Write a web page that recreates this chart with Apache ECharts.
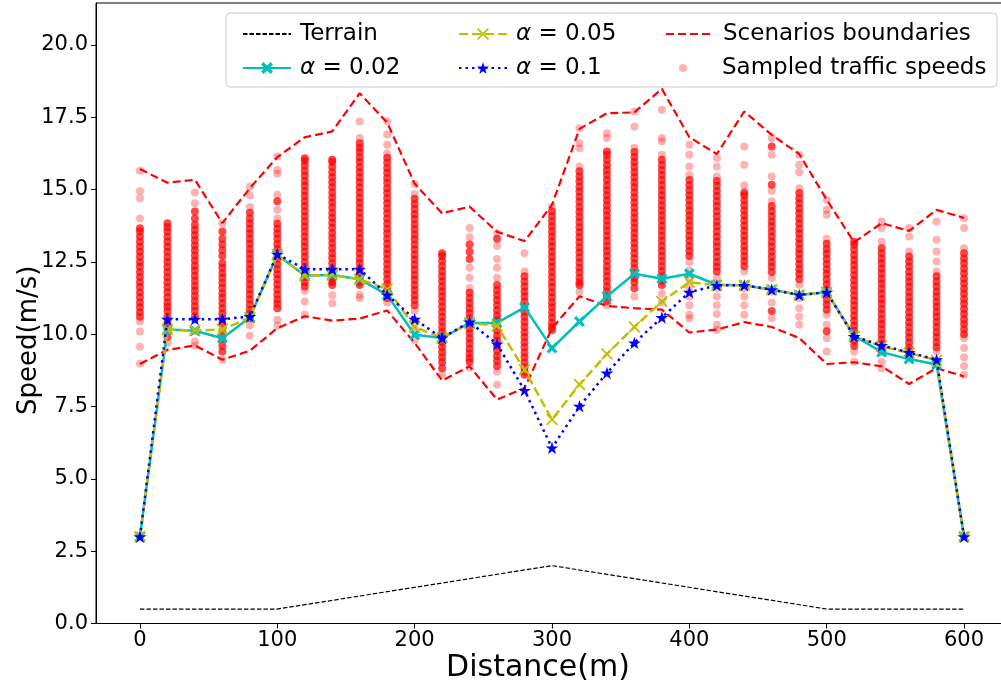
<!DOCTYPE html>
<html>
<head>
<meta charset="utf-8">
<script src="https://cdn.jsdelivr.net/npm/echarts@6/dist/echarts.min.js"></script>
<style>html,body{margin:0;padding:0;background:#fff;}#c{width:1001px;height:689px;}</style>
</head>
<body>
<div id="c"></div>
<script>
// ---- data ----
const distances = [0,20,40,60,80,100,120,140,160,180,200,220,240,260,280,300,320,340,360,380,400,420,440,460,480,500,520,540,560,580,600];
const terrainX = [0,100,300,500,600];
const terrainY = [0.5,0.5,2.0,0.5,0.5];
const alpha002 = [3.0,10.16,10.12,9.86,10.58,12.75,12.03,12.05,11.9,11.36,9.98,9.87,10.39,10.39,10.93,9.52,10.44,11.31,12.09,11.92,12.09,11.71,11.69,11.54,11.36,11.45,9.95,9.38,9.14,8.95,3.0];
const alpha005 = [3.0,10.16,10.13,10.16,10.58,12.75,12.03,12.05,11.9,11.56,10.25,9.87,10.39,10.29,8.77,7.05,8.26,9.32,10.25,11.13,11.8,11.69,11.69,11.54,11.36,11.45,9.93,9.58,9.35,9.1,3.0];
const alpha01 = [3.0,10.52,10.52,10.52,10.61,12.77,12.25,12.25,12.25,11.36,10.52,9.87,10.42,9.66,8.06,6.07,7.51,8.66,9.70,10.58,11.45,11.69,11.69,11.54,11.36,11.45,9.92,9.61,9.37,9.12,3.0];
const upperBound = [15.71,15.24,15.34,13.84,15.05,16.12,16.81,17.01,18.33,17.32,15.2,14.18,14.41,13.54,13.22,14.47,17.1,17.64,17.67,18.48,16.81,16.23,17.70,16.89,16.23,14.65,13.18,13.84,13.57,14.3,14.02];
const lowerBound = [8.97,9.46,9.61,9.12,9.43,10.21,10.62,10.47,10.54,10.82,9.7,8.4,8.89,7.74,8.14,10.21,11.31,10.98,10.9,10.85,10.06,10.16,10.42,10.25,9.87,8.97,9.03,8.89,8.28,8.83,8.54];
const xTicks = [0,100,200,300,400,500,600];
const yTicks = [0,2.5,5,7.5,10,12.5,15,17.5,20];

// sampled traffic speeds, one list per distance
const s0 = [15.65,14.95,14.7,14.0,13.66,13.55,13.38,13.2,13.02,12.85,12.68,12.5,12.33,12.15,11.98,11.8,11.63,11.45,11.28,11.1,10.93,10.76,10.6,10.44,10.09,9.57,8.99];
const s20 = [13.84,13.7,13.55,13.37,13.2,13.02,12.85,12.67,12.5,12.32,12.15,11.97,11.8,11.62,11.45,11.27,11.1,10.95,10.8,10.6,10.4,10.2,9.9,9.7];
const s40 = [14.9,14.53,14.24,14.0,13.78,13.6,13.42,13.25,13.07,12.9,12.72,12.55,12.37,12.2,12.02,11.85,11.67,11.5,11.32,11.15,10.97,10.8,10.62,10.5,10.1,9.75,9.6];
const s60 = [13.84,13.55,13.3,13.1,12.9,12.7,12.45,12.3,12.12,11.95,11.77,11.6,11.42,11.25,11.07,10.9,10.72,10.55,10.38,10.1,9.85,9.6,9.4,9.12];
const s80 = [15.1,14.8,14.4,14.2,14.0,13.83,13.65,13.48,13.3,13.13,12.95,12.78,12.6,12.43,12.25,12.08,11.9,11.73,11.55,11.38,11.2,11.03,10.85,10.7,10.55,10.3,9.95];
const s100 = [16.14,15.68,15.55,14.82,14.6,14.3,14.0,13.82,13.65,13.47,13.3,13.12,12.95,12.77,12.6,12.42,12.25,12.07,11.9,11.72,11.55,11.37,11.2,11.05,10.9,10.5,10.3];
const s120 = [16.08,16.0,15.83,15.65,15.48,15.3,15.13,14.95,14.78,14.6,14.43,14.25,14.08,13.9,13.73,13.55,13.38,13.2,13.03,12.85,12.68,12.5,12.33,12.15,11.98,11.8,11.65,11.5,11.13,10.67];
const s140 = [16.03,15.95,15.78,15.6,15.43,15.25,15.08,14.9,14.73,14.55,14.38,14.2,14.03,13.85,13.68,13.5,13.33,13.15,12.98,12.8,12.63,12.45,12.28,12.1,11.93,11.8,11.7,11.35,11.07];
const s160 = [17.35,16.78,16.6,16.45,16.3,16.12,15.95,15.77,15.6,15.42,15.25,15.07,14.9,14.72,14.55,14.37,14.2,14.02,13.85,13.67,13.5,13.32,13.15,12.97,12.8,12.62,12.45,12.27,12.1,11.92,11.8,11.7,11.36,11.25];
const s180 = [17.35,16.9,16.55,16.25,16.1,15.93,15.75,15.58,15.4,15.23,15.05,14.88,14.7,14.53,14.35,14.18,14.0,13.83,13.65,13.48,13.3,13.13,12.95,12.78,12.6,12.43,12.25,12.08,11.9,11.73,11.55,11.4,11.25,11.1];
const s200 = [15.2,14.85,14.68,14.5,14.33,14.15,13.98,13.8,13.63,13.45,13.28,13.1,12.93,12.75,12.58,12.4,12.23,12.05,11.88,11.7,11.53,11.35,11.18,11.0,10.8,10.5,10.2,9.8];
const s220 = [12.8,12.7,12.53,12.35,12.18,12.0,11.83,11.65,11.48,11.3,11.13,10.95,10.78,10.6,10.43,10.25,10.08,9.9,9.73,9.55,9.38,9.2,9.03,8.82,8.6];
const s240 = [13.67,13.35,13.1,12.85,12.6,12.3,11.95,11.6,11.43,11.25,11.08,10.9,10.73,10.55,10.38,10.2,10.03,9.85,9.68,9.5,9.33,9.18,9.05,8.85];
const s260 = [13.5,13.3,13.05,12.6,12.3,11.95,11.7,11.53,11.35,11.18,11.0,10.83,10.65,10.48,10.3,10.13,9.95,9.78,9.6,9.43,9.25,9.08,8.9,8.7,8.25];
const s280 = [12.8,12.17,12.0,11.82,11.65,11.47,11.3,11.12,10.95,10.77,10.6,10.42,10.25,10.07,9.9,9.72,9.55,9.37,9.2,9.02,8.85,8.7,8.6];
const s300 = [14.41,14.25,14.08,13.9,13.73,13.55,13.38,13.2,13.03,12.85,12.68,12.5,12.33,12.15,11.98,11.8,11.63,11.45,11.28,11.1,10.93,10.75,10.58,10.4,10.25,10.15];
const s320 = [17.12,16.6,16.43,15.8,15.63,15.45,15.28,15.1,14.93,14.75,14.58,14.4,14.23,14.05,13.88,13.7,13.53,13.35,13.18,13.0,12.83,12.65,12.48,12.3,12.13,11.95,11.8,11.7,11.47];
const s340 = [16.95,16.78,16.32,16.2,16.03,15.85,15.68,15.5,15.33,15.15,14.98,14.8,14.63,14.45,14.28,14.1,13.93,13.75,13.58,13.4,13.23,13.05,12.88,12.7,12.53,12.35,12.18,12.0,11.83,11.65,11.48,11.3,11.15,11.0];
const s360 = [17.7,17.18,16.45,16.3,16.13,15.95,15.78,15.6,15.43,15.25,15.08,14.9,14.73,14.55,14.38,14.2,14.03,13.85,13.68,13.5,13.33,13.15,12.98,12.8,12.63,12.45,12.28,12.1,11.95,11.8,11.59,11.3];
const s380 = [17.76,16.78,16.66,16.2,16.03,15.85,15.68,15.5,15.33,15.15,14.98,14.8,14.63,14.45,14.28,14.1,13.93,13.75,13.58,13.4,13.23,13.05,12.88,12.7,12.53,12.35,12.18,12.0,11.85,11.7,11.4,11.1];
const s400 = [16.55,16.2,15.8,15.5,15.33,15.15,14.98,14.8,14.63,14.45,14.28,14.1,13.93,13.75,13.58,13.4,13.23,13.05,12.88,12.7,12.5,12.2,11.9,11.6,11.3,11.0,10.67,10.55];
const s420 = [16.09,15.8,15.45,15.3,15.13,14.95,14.78,14.6,14.43,14.25,14.08,13.9,13.73,13.55,13.38,13.2,13.03,12.85,12.68,12.5,12.33,12.17,11.94,11.6,11.3,11.0,10.7,10.33,10.15];
const s440 = [16.49,15.86,15.15,14.9,14.8,14.63,14.45,14.28,14.1,13.93,13.75,13.58,13.4,13.23,13.05,12.88,12.7,12.53,12.35,12.17,11.59,11.3,11.0,10.67];
const s460 = [16.78,16.49,16.2,15.45,15.17,14.95,14.6,14.43,14.25,14.08,13.9,13.73,13.55,13.38,13.2,13.03,12.85,12.68,12.5,12.33,12.15,11.94,11.47,11.1,10.8,10.56];
const s480 = [16.2,15.86,15.6,15.05,14.88,14.7,14.53,14.35,14.18,14.0,13.83,13.65,13.48,13.3,13.13,12.95,12.78,12.6,12.43,12.25,12.08,11.9,11.71,11.24,10.9,10.6,10.33];
const s500 = [14.65,14.3,14.13,13.3,13.13,12.95,12.78,12.6,12.43,12.25,12.08,11.9,11.73,11.55,11.38,11.2,11.03,10.85,10.67,10.33,10.1,9.86,9.4];
const s520 = [13.2,13.09,12.92,12.74,12.57,12.39,12.22,12.04,11.87,11.69,11.52,11.34,11.17,10.99,10.82,10.64,10.47,10.29,10.12,9.94,9.77,9.59,9.4,9.05];
const s540 = [13.9,13.67,13.2,12.97,12.8,12.62,12.45,12.27,12.1,11.92,11.75,11.57,11.4,11.22,11.05,10.87,10.7,10.52,10.35,10.17,10.0,9.82,9.65,9.5,9.4,9.05,8.82];
const s560 = [13.67,13.38,12.86,12.69,12.51,12.34,12.16,11.99,11.81,11.64,11.46,11.29,11.11,10.94,10.76,10.59,10.41,10.24,10.06,9.89,9.71,9.54,9.4,9.17];
const s580 = [13.9,13.27,12.86,12.51,12.17,12.0,11.82,11.65,11.47,11.3,11.12,10.95,10.77,10.6,10.42,10.25,10.07,9.9,9.72,9.55,9.4,9.05];
const s600 = [14.01,13.67,12.97,12.8,12.62,12.45,12.27,12.1,11.92,11.75,11.57,11.4,11.22,11.05,10.87,10.7,10.52,10.35,10.17,10.0,9.86,9.52,9.2,8.9,8.6];
const sampledSpeeds = [s0,s20,s40,s60,s80,s100,s120,s140,s160,s180,s200,s220,s240,s260,s280,s300,s320,s340,s360,s380,s400,s420,s440,s460,s480,s500,s520,s540,s560,s580,s600];

// ---- build chart ----
const pair = (xs, ys) => xs.map((x, i) => [x, ys[i]]);
// heavier tint where samples pile up (mimics overlapping translucent dots)
const scatterData = [];
sampledSpeeds.forEach((list, i) => list.forEach(v => {
  const near = list.filter(w => w !== v && Math.abs(w - v) < 0.3).length;
  scatterData.push({ value: [distances[i], v], itemStyle: { opacity: near >= 2 ? 0.72 : 0.3 } });
}));

const FONT = 'DejaVu Sans';
const X_SYM = 'path://M0,2L2,0L5,3L8,0L10,2L7,5L10,8L8,10L5,7L2,10L0,8L3,5Z';
const x_SYM = 'path://M0,1L1,0L5,4L9,0L10,1L6,5L10,9L9,10L5,6L1,10L0,9L4,5Z';
const STAR = 'path://M10,0L12.245,6.91L19.511,6.91L13.633,11.18L15.878,18.09L10,13.82L4.122,18.09L6.367,11.18L0.489,6.91L7.755,6.91Z';

const mkText = pad => ({
  fontFamily: FONT, fontSize: 23, color: '#000', lineHeight: 24, padding: [0,0,0,pad],
  rich: { a: { fontFamily: FONT, fontSize: 23, fontStyle: 'italic', color: '#000', lineHeight: 24 } }
});
const fmt = n => n.replace('α', '{a|α}');
const legendBase = { orient: 'vertical', itemWidth: 48, itemHeight: 15, itemGap: 10, textStyle: mkText(4), formatter: fmt, selectedMode: false };

const chart = echarts.init(document.getElementById('c'), null, { renderer: 'canvas' });
chart.setOption({
  animation: false,
  backgroundColor: '#fff',
  grid: { left: 96, top: 3, width: 912, height: 620.5, show: true, borderColor: '#000', borderWidth: 1,
          backgroundColor: 'transparent', containLabel: false, outerBoundsMode: 'none' },
  xAxis: {
    type: 'value', min: -32, max: 632,
    axisLine: { show: true, onZero: false, lineStyle: { color: '#000', width: 1 } },
    axisTick: { show: true, customValues: xTicks, length: 5, lineStyle: { color: '#000' } },
    axisLabel: { customValues: xTicks, color: '#000', fontFamily: FONT, fontSize: 21, margin: 7 },
    splitLine: { show: false },
    name: 'Distance(m)', nameLocation: 'middle', nameGap: 30, nameMoveOverlap: false,
    nameTextStyle: { fontFamily: FONT, fontSize: 30, color: '#000', verticalAlign: 'top', padding: [0, 28, 0, 0] }
  },
  yAxis: {
    type: 'value', min: 0, max: 21.45,
    axisLine: { show: true, onZero: false, lineStyle: { color: '#000', width: 1 } },
    axisTick: { show: true, customValues: yTicks, length: 5, lineStyle: { color: '#000' } },
    axisLabel: { customValues: yTicks, color: '#000', fontFamily: FONT, fontSize: 21, margin: 8, formatter: v => v.toFixed(1) },
    splitLine: { show: false },
    name: 'Speed(m/s)', nameLocation: 'middle', nameGap: 54, nameMoveOverlap: false,
    nameTextStyle: { fontFamily: FONT, fontSize: 26, color: '#000', padding: [0, 54, 0, 0] }
  },
  graphic: [{
    type: 'rect', z: 3, shape: { x: 226, y: 13, width: 771, height: 74, r: 4 },
    style: { fill: 'rgba(255,255,255,0.8)', stroke: '#cccccc', lineWidth: 1 }
  }],
  legend: [
    Object.assign({}, legendBase, { left: 237, top: 17, data: ['Terrain', 'α = 0.02'] }),
    Object.assign({}, legendBase, { left: 453, top: 17, data: ['α = 0.05', 'α = 0.1'] }),
    Object.assign({}, legendBase, { left: 660, top: 17, data: ['Scenarios boundaries'] }),
    Object.assign({}, legendBase, { left: 674, top: 51, itemHeight: 8, textStyle: mkText(10), data: ['Sampled traffic speeds'] })
  ],
  series: [
    { name: 'Sampled traffic speeds', type: 'scatter', z: 1, symbol: 'circle', symbolSize: 8,
      itemStyle: { color: '#ff0000', opacity: 0.3 }, data: scatterData },
    { name: 'Terrain', type: 'line', z: 2, symbol: 'none', data: pair(terrainX, terrainY),
      lineStyle: { color: '#000', width: 1.2, type: [4.5, 2] }, itemStyle: { color: '#000', opacity: 0 } },
    { name: 'Scenarios boundaries', type: 'line', z: 2, symbol: 'none', data: pair(distances, upperBound),
      lineStyle: { color: '#ff0000', width: 2.2, type: [8, 4] }, itemStyle: { color: '#ff0000', opacity: 0 } },
    { name: 'Scenarios boundaries', type: 'line', z: 2, symbol: 'none', data: pair(distances, lowerBound),
      lineStyle: { color: '#ff0000', width: 2.2, type: [8, 4] }, itemStyle: { color: '#ff0000', opacity: 0 } },
    { name: 'α = 0.02', type: 'line', z: 3, symbol: X_SYM, symbolSize: 11, showSymbol: true, data: pair(distances, alpha002),
      lineStyle: { color: '#00bfbf', width: 2.5 }, itemStyle: { color: '#00bfbf' } },
    { name: 'α = 0.05', type: 'line', z: 4, symbol: x_SYM, symbolSize: 12, showSymbol: true, data: pair(distances, alpha005),
      lineStyle: { color: '#bfbf00', width: 2.5, type: [9, 4] }, itemStyle: { color: '#bfbf00' } },
    { name: 'α = 0.1', type: 'line', z: 5, symbol: STAR, symbolSize: 13, symbolKeepAspect: true, showSymbol: true, data: pair(distances, alpha01),
      lineStyle: { color: '#0000ff', width: 2.5, type: [2.5, 4] }, itemStyle: { color: '#0000ff' } }
  ]
});
</script>
</body>
</html>
